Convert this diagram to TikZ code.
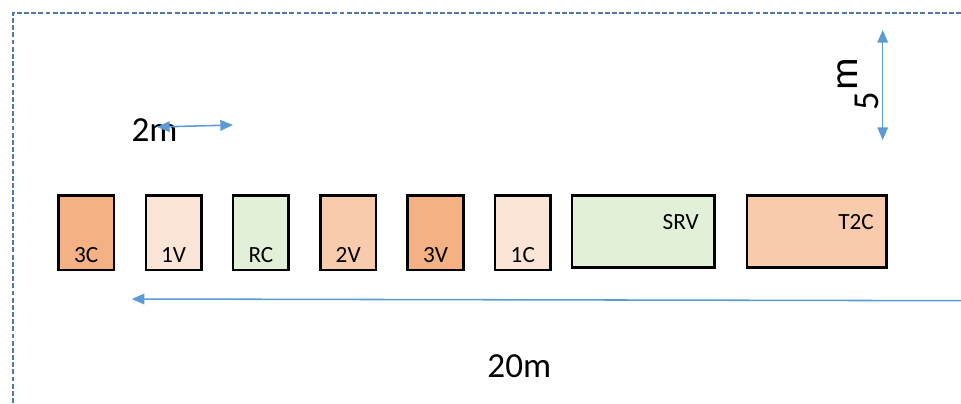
\documentclass[tikz,border=0pt]{standalone}
\usepackage{fontspec}
\setmainfont{Carlito}
\usepackage{xcolor}
\usetikzlibrary{arrows.meta,positioning}
\definecolor{deep}{HTML}{F4B183}
\definecolor{pale}{HTML}{FBE5D6}
\definecolor{mint}{HTML}{E2F0D9}
\definecolor{peach}{HTML}{F8CBAD}
\definecolor{dimblue}{HTML}{5B9BD5}
\definecolor{edge}{HTML}{4F7BAA}

\begin{document}
\begin{tikzpicture}[x=0.025cm,y=-0.025cm,
  cell/.style={draw,line width=1.8pt,inner sep=0pt,minimum width=1.39cm,
    text height=1.66cm,text depth=0.19cm,font=\fontsize{16.5}{19}\selectfont},
  wide/.style={draw,line width=1.8pt,inner ysep=0pt,align=right,
    text height=0.85cm,text depth=0.95cm,font=\fontsize{16.5}{19}\selectfont},
  big/.style={inner sep=0pt,font=\fontsize{25}{30}\selectfont},
  dimline/.style={dimblue,line width=1.1pt,>={Triangle[length=9pt,width=7.5pt]}}]
\useasboundingbox (0,0) rectangle (961,403);
% site border
\draw[edge,line width=1.3pt,dash pattern=on 3.5pt off 1.6pt] (12.7,403)--(12.7,12.7)--(961,12.7);
% small containers
\foreach \n/\t/\c [count=\i from 0] in {c3/3C/deep,v1/1V/pale,rc/RC/mint,v2/2V/peach,v3/3V/deep,c1/1C/pale}
  \node[cell,fill=\c] (\n) at (86.3+87.3*\i,232.75) {\t};
\node[wide,fill=mint,inner xsep=0.39cm,text width=2.78cm] (srv) at (643.2,231.3) {SRV};
\node[wide,fill=peach,inner xsep=0.32cm,text width=2.85cm] (t2c) at (816.85,231.65) {T2C};
% dimensions
\node[big,anchor=base] (two) at (154.5,141.7) {2m};
\coordinate (wl) at (157,127);
\coordinate (wr) at (233,125);
\draw[dimline,<->] (wl)--(wr);
\coordinate (ht) at (882.7,30);
\coordinate (hb) at (882.7,140);
\draw[dimline,<->] (ht)--(hb);
\node[big,font=\fontsize{26}{30}\selectfont,rotate=90,anchor=base west] (five) at (878,111) {5\kern1pt\raisebox{0.55em}{\fontsize{29}{30}\selectfont m}};
\coordinate (re) at (961,300.7);
\coordinate (le) at (131.7,299);
\draw[dimline,->] (re)--(le);
\node[big,anchor=base] (span) at (519.3,377.3) {20m};
\end{tikzpicture}
\end{document}
